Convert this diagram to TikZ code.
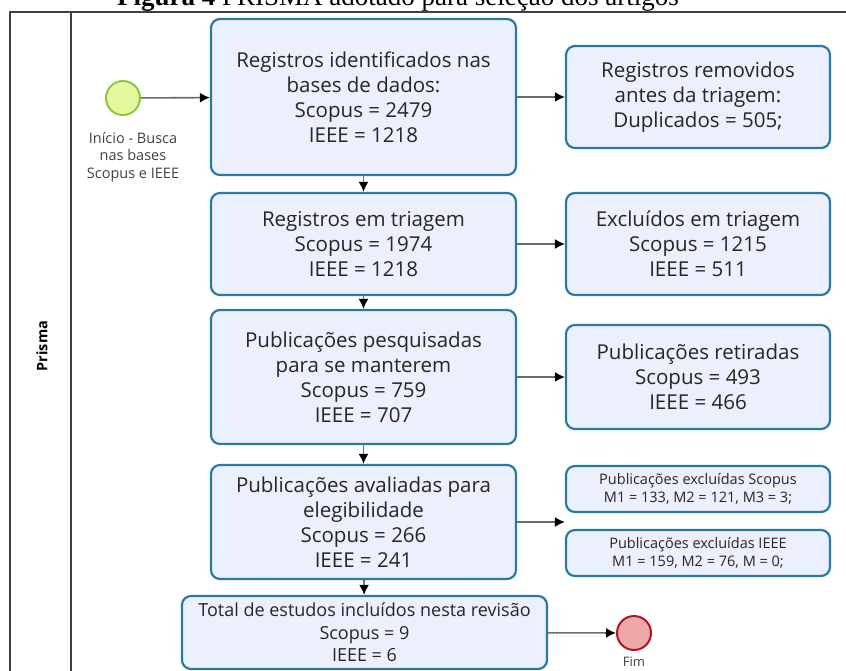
\documentclass[tikz,border=0pt]{standalone}
\usepackage{fontspec}
\setmainfont{Open Sans}
\newfontfamily\captionfont{Liberation Serif}
\usetikzlibrary{arrows.meta}
\definecolor{boxblue}{rgb}{0.161,0.478,0.639}
\definecolor{boxfill}{rgb}{0.925,0.937,0.988}
\definecolor{startfill}{rgb}{0.902,0.973,0.620}
\definecolor{startline}{rgb}{0.553,0.776,0.247}
\definecolor{endfill}{rgb}{0.933,0.659,0.659}
\definecolor{endline}{rgb}{0.678,0.094,0.125}
\definecolor{flowgray}{rgb}{0.42,0.42,0.42}
\definecolor{poolgray}{rgb}{0.25,0.25,0.25}

\tikzset{
  box/.style={draw=boxblue,fill=boxfill,line width=2.2pt,rounded corners=9pt,
              align=center,inner sep=0pt,text=black!85,
              font=\fontsize{20.5}{25}\selectfont},
  smallbox/.style={box,font=\fontsize{14.5}{17.5}\selectfont},
  flow/.style={-{Latex[length=10pt,width=10pt,black]},line width=1.6pt,flowgray},
  event/.style={circle,minimum size=34pt,inner sep=0pt,line width=2pt},
  eventlabel/.style={align=center,text=black!75,font=\fontsize{14.5}{17.5}\selectfont}
}

\begin{document}
\begin{tikzpicture}[x=1pt,y=-1pt]

\useasboundingbox (0,0) rectangle (846,671);

% caption, cut off at the top
\node [anchor=base,font=\captionfont\fontsize{27}{27}\selectfont] (caption) at (398,6)
      {\textbf{Figura 4} PRISMA adotado para seleção dos artigos};

% pool and lane
\draw [line width=1.5pt,poolgray] (846,12) -- (10,12) -- (10,675);
\draw [line width=1.5pt,poolgray] (71,12) -- (71,675);
\node [rotate=90,font=\bfseries\fontsize{14.5}{14.5}\selectfont] (lane) at (42,346) {Prisma};

% events
\node [event,draw=startline,fill=startfill] (start) at (123,98) {};
\node [eventlabel] (startlabel) at (133,157) {Início - Busca\\nas bases\\Scopus e IEEE};
\node [event,draw=endline,fill=endfill] (fim) at (634,633) {};
\node [eventlabel,font=\fontsize{13}{13}\selectfont] (fimlabel) at (634,662) {Fim};

% main column
\node [box,minimum width=305,minimum height=156] (ident) at (363.5,97)
      {Registros identificados nas\\bases de dados:\\Scopus = 2479\\IEEE = 1218};
\node [box,minimum width=305,minimum height=102] (triagem) at (363.5,244)
      {Registros em triagem\\Scopus = 1974\\IEEE = 1218};
\node [box,minimum width=305,minimum height=134] (pesq) at (363.5,377)
      {Publicações pesquisadas\\para se manterem\\Scopus = 759\\IEEE = 707};
\node [box,minimum width=305,minimum height=114] (elegib) at (363.5,522)
      {Publicações avaliadas para\\elegibilidade\\Scopus = 266\\IEEE = 241};
\node [box,minimum width=365,minimum height=73,font=\fontsize{18}{22.5}\selectfont] (total) at (364.5,632.5)
      {Total de estudos incluídos nesta revisão\\Scopus = 9\\IEEE = 6};

% right column
\node [box,minimum width=264,minimum height=102] (removidos) at (698,97)
      {Registros removidos\\antes da triagem:\\Duplicados = 505;};
\node [box,minimum width=264,minimum height=102] (excluidos) at (698,244)
      {Excluídos em triagem\\Scopus = 1215\\IEEE = 511};
\node [box,minimum width=264,minimum height=104] (retiradas) at (698,377)
      {Publicações retiradas\\Scopus = 493\\IEEE = 466};
\node [smallbox,minimum width=264,minimum height=46] (exscopus) at (698,489)
      {Publicações excluídas Scopus\\M1 = 133, M2 = 121, M3 = 3;};
\node [smallbox,minimum width=264,minimum height=46] (exieee) at (698,553)
      {Publicações excluídas IEEE\\M1 = 159, M2 = 76, M = 0;};
\coordinate (gap) at (exscopus.west |- elegib.east);

% flows
\draw [flow] (start) -- (ident);
\draw [flow] (ident) -- (removidos.west |- ident.east);
\draw [flow] (ident) -- (triagem);
\draw [flow] (triagem) -- (excluidos);
\draw [flow] (triagem) -- (pesq);
\draw [flow] (pesq) -- (retiradas);
\draw [flow] (pesq) -- (elegib);
\draw [flow] (elegib) -- (gap);
\draw [flow] (elegib) -- (total);
\draw [flow] (total) -- (fim);

\end{tikzpicture}
\end{document}
